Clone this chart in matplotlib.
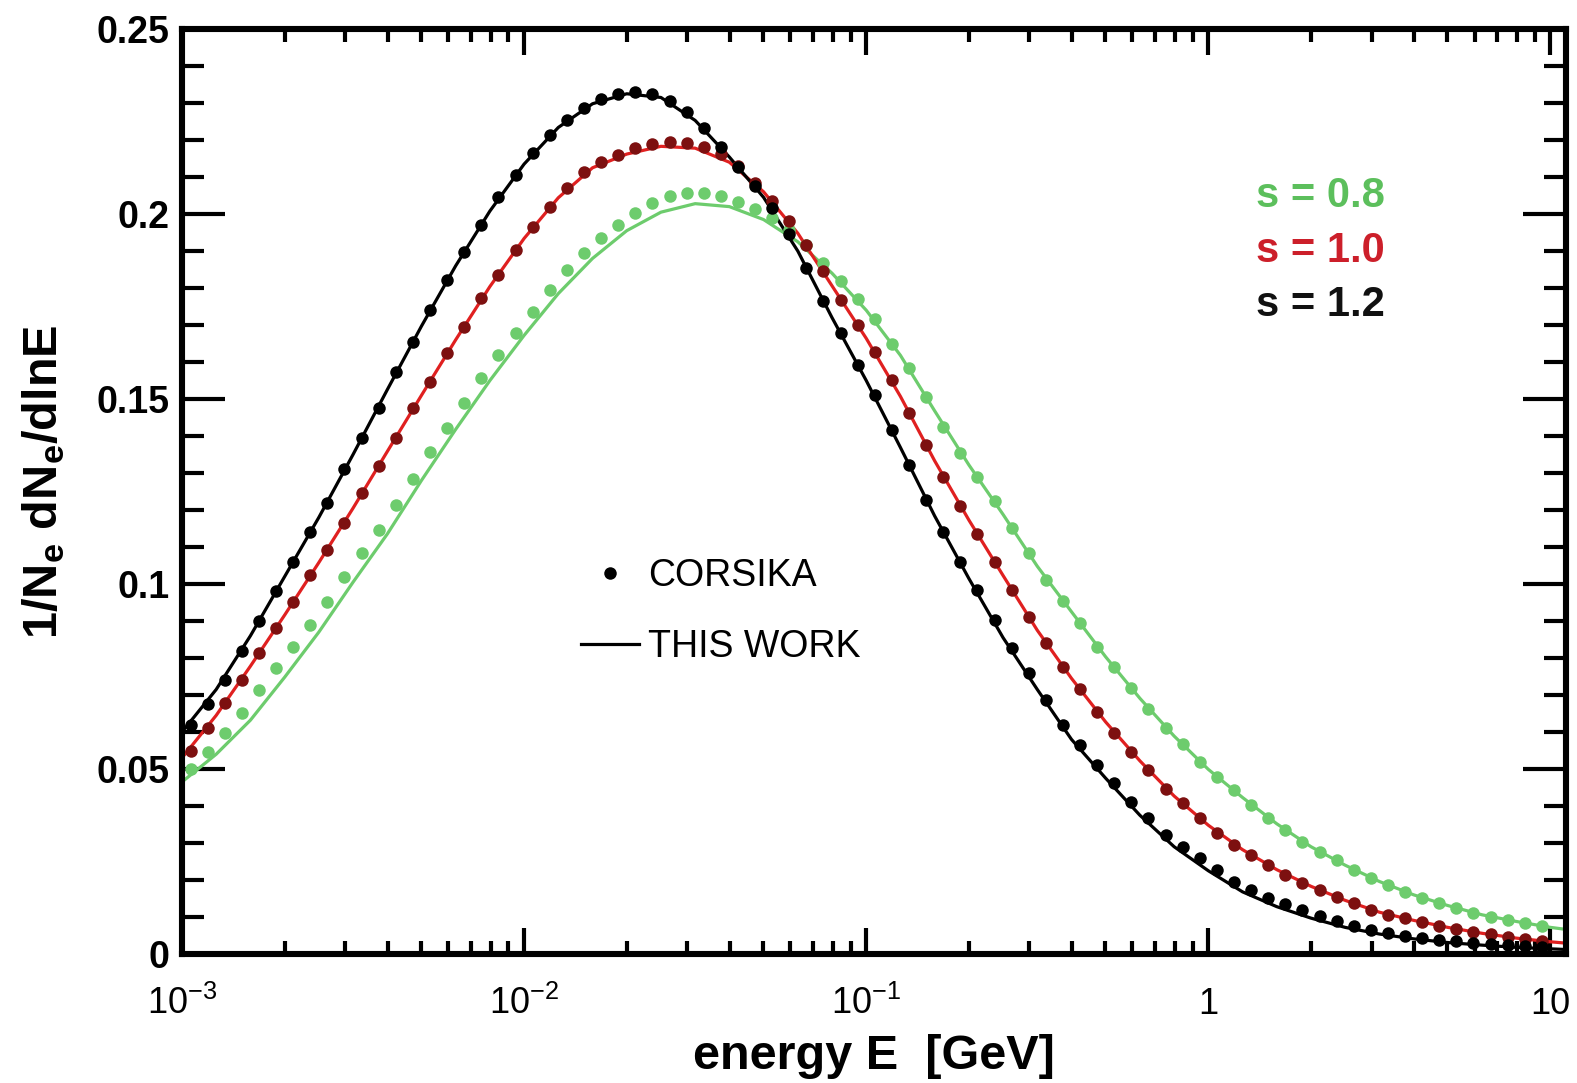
import numpy as np
import matplotlib
matplotlib.use("Agg")
from matplotlib import pyplot as plt
from matplotlib.lines import Line2D
from matplotlib.ticker import FixedLocator, FixedFormatter, MultipleLocator, LogLocator, NullFormatter

plt.rcParams['font.family'] = ['Liberation Sans', 'DejaVu Sans']
plt.rcParams['mathtext.fontset'] = 'custom'
plt.rcParams['mathtext.rm'] = 'Liberation Sans'
plt.rcParams['mathtext.bf'] = 'Liberation Sans:bold'
plt.rcParams['mathtext.default'] = 'regular'

# CORSIKA histogram, bin centres in log10(E/GeV), 20 bins per decade
dot_logE = [-2.975, -2.925, -2.875, -2.825, -2.775, -2.725, -2.675, -2.625, -2.575, -2.525,
            -2.475, -2.425, -2.375, -2.325, -2.275, -2.225, -2.175, -2.125, -2.075, -2.025,
            -1.975, -1.925, -1.875, -1.825, -1.775, -1.725, -1.675, -1.625, -1.575, -1.525,
            -1.475, -1.425, -1.375, -1.325, -1.275, -1.225, -1.175, -1.125, -1.075, -1.025,
            -0.975, -0.925, -0.875, -0.825, -0.775, -0.725, -0.675, -0.625, -0.575, -0.525,
            -0.475, -0.425, -0.375, -0.325, -0.275, -0.225, -0.175, -0.125, -0.075, -0.025,
            0.025, 0.075, 0.125, 0.175, 0.225, 0.275, 0.325, 0.375, 0.425, 0.475,
            0.525, 0.575, 0.625, 0.675, 0.725, 0.775, 0.825, 0.875, 0.925, 0.975]

corsika_08 = [0.0500, 0.0545, 0.0597, 0.0651, 0.0714, 0.0773, 0.0830, 0.0889, 0.0951, 0.1019,
              0.1084, 0.1146, 0.1214, 0.1285, 0.1357, 0.1422, 0.1489, 0.1557, 0.1619, 0.1678,
              0.1735, 0.1795, 0.1849, 0.1895, 0.1935, 0.1970, 0.2002, 0.2030, 0.2048, 0.2057,
              0.2057, 0.2048, 0.2033, 0.2014, 0.1990, 0.1957, 0.1915, 0.1868, 0.1820, 0.1770,
              0.1715, 0.1650, 0.1585, 0.1505, 0.1424, 0.1354, 0.1290, 0.1225, 0.1151, 0.1084,
              0.1011, 0.0955, 0.0895, 0.0830, 0.0776, 0.0720, 0.0662, 0.0610, 0.0567, 0.0520,
              0.0478, 0.0443, 0.0403, 0.0368, 0.0335, 0.0303, 0.0276, 0.0254, 0.0227, 0.0205,
              0.0186, 0.0168, 0.0151, 0.0138, 0.0124, 0.0111, 0.0100, 0.0092, 0.0084, 0.0075]

corsika_10 = [0.0550, 0.0610, 0.0678, 0.0741, 0.0814, 0.0881, 0.0951, 0.1024, 0.1092, 0.1165,
              0.1245, 0.1320, 0.1395, 0.1476, 0.1546, 0.1624, 0.1695, 0.1773, 0.1835, 0.1903,
              0.1965, 0.2019, 0.2070, 0.2114, 0.2141, 0.2160, 0.2178, 0.2190, 0.2195, 0.2192,
              0.2182, 0.2163, 0.2130, 0.2085, 0.2035, 0.1980, 0.1915, 0.1845, 0.1768, 0.1700,
              0.1627, 0.1551, 0.1462, 0.1376, 0.1290, 0.1210, 0.1135, 0.1060, 0.0985, 0.0910,
              0.0840, 0.0775, 0.0715, 0.0655, 0.0598, 0.0546, 0.0497, 0.0445, 0.0408, 0.0368,
              0.0327, 0.0295, 0.0268, 0.0241, 0.0214, 0.0192, 0.0173, 0.0153, 0.0137, 0.0120,
              0.0106, 0.0096, 0.0086, 0.0077, 0.0068, 0.0060, 0.0053, 0.0046, 0.0040, 0.0035]

corsika_12 = [0.0620, 0.0675, 0.0740, 0.0820, 0.0900, 0.0980, 0.1060, 0.1140, 0.1220, 0.1310,
              0.1395, 0.1476, 0.1573, 0.1654, 0.1741, 0.1822, 0.1897, 0.1970, 0.2046, 0.2105,
              0.2165, 0.2214, 0.2254, 0.2286, 0.2310, 0.2325, 0.2330, 0.2325, 0.2305, 0.2275,
              0.2232, 0.2181, 0.2127, 0.2075, 0.2015, 0.1945, 0.1855, 0.1765, 0.1678, 0.1592,
              0.1511, 0.1416, 0.1322, 0.1227, 0.1141, 0.1059, 0.0984, 0.0903, 0.0827, 0.0759,
              0.0686, 0.0619, 0.0565, 0.0511, 0.0462, 0.0412, 0.0368, 0.0322, 0.0289, 0.0259,
              0.0227, 0.0195, 0.0173, 0.0151, 0.0136, 0.0119, 0.0102, 0.0088, 0.0075, 0.0065,
              0.0057, 0.0049, 0.0043, 0.0038, 0.0034, 0.0030, 0.0027, 0.0024, 0.0021, 0.0019]

# parametrisation ("this work"), every 0.1 in log10(E/GeV), up to the frame edge
fit_logE = [-3.0, -2.9, -2.8, -2.7, -2.6, -2.5, -2.4, -2.3, -2.2, -2.1,
            -2.0, -1.9, -1.8, -1.7, -1.6, -1.5, -1.4, -1.3, -1.2, -1.1,
            -1.0, -0.9, -0.8, -0.7, -0.6, -0.5, -0.4, -0.3, -0.2, -0.1,
            0.0, 0.1, 0.2, 0.3, 0.4, 0.5, 0.6, 0.7, 0.8, 0.9, 1.0, 1.05]

fit_08 = [0.0465, 0.0540, 0.0632, 0.0748, 0.0870, 0.1005, 0.1135, 0.1280, 0.1418, 0.1550,
          0.1672, 0.1785, 0.1880, 0.1955, 0.2005, 0.2028, 0.2020, 0.1985, 0.1925, 0.1840,
          0.1740, 0.1618, 0.1468, 0.1322, 0.1188, 0.1048, 0.0925, 0.0803, 0.0691, 0.0589,
          0.0499, 0.0423, 0.0352, 0.0290, 0.0240, 0.0196, 0.0160, 0.0131, 0.0106, 0.0088,
          0.0072, 0.0066]

fit_10 = [0.0530, 0.0645, 0.0778, 0.0916, 0.1058, 0.1205, 0.1358, 0.1510, 0.1660, 0.1804,
          0.1934, 0.2044, 0.2125, 0.2162, 0.2183, 0.2178, 0.2140, 0.2060, 0.1948, 0.1806,
          0.1664, 0.1507, 0.1333, 0.1173, 0.1023, 0.0875, 0.0745, 0.0627, 0.0522, 0.0427,
          0.0348, 0.0282, 0.0228, 0.0183, 0.0145, 0.0113, 0.0091, 0.0072, 0.0056, 0.0043,
          0.0033, 0.0029]

fit_12 = [0.0600, 0.0715, 0.0860, 0.1020, 0.1180, 0.1350, 0.1525, 0.1697, 0.1860, 0.2008,
          0.2135, 0.2234, 0.2298, 0.2325, 0.2315, 0.2253, 0.2154, 0.2045, 0.1900, 0.1720,
          0.1550, 0.1369, 0.1184, 0.1015, 0.0855, 0.0715, 0.0580, 0.0475, 0.0375, 0.0290,
          0.0225, 0.0168, 0.0128, 0.0097, 0.0072, 0.0054, 0.0041, 0.0031, 0.0024, 0.0018,
          0.0014, 0.0012]

series = [
    ("s = 0.8", corsika_08, fit_08, "#6dcc6d", "#6dcc6d", "#5cbf5c"),
    ("s = 1.0", corsika_10, fit_10, "#e02020", "#7d1010", "#cc1f2a"),
    ("s = 1.2", corsika_12, fit_12, "#000000", "#000000", "#111111"),
]

dot_E = 10 ** np.array(dot_logE)
fit_E = 10 ** np.array(fit_logE)

fig = plt.figure(figsize=(15.77, 10.83), dpi=100)
ax = fig.add_axes([0.1154, 0.1191, 0.8776, 0.8541])

for name, dots, fit, lcol, dcol, tcol in series:
    ax.plot(fit_E, fit, color=lcol, lw=2.3, zorder=2)
    ax.plot(dot_E, dots, ls='none', marker='o', ms=9, mew=0, color=dcol, zorder=3)

ax.set_xscale('log')
ax.set_xlim(1e-3, 11.1)
ax.set_ylim(0, 0.25)

ax.xaxis.set_major_locator(FixedLocator([1e-3, 1e-2, 1e-1, 1, 10]))
ax.xaxis.set_major_formatter(FixedFormatter([r'$10^{-3}$', r'$10^{-2}$', r'$10^{-1}$', '1', '10']))
ax.xaxis.set_minor_locator(LogLocator(base=10, subs=np.arange(2, 10), numticks=20))
ax.xaxis.set_minor_formatter(NullFormatter())
ax.yaxis.set_minor_locator(MultipleLocator(0.01))
ax.set_yticks([0, 0.05, 0.1, 0.15, 0.2, 0.25])
ax.set_yticklabels(['0', '0.05', '0.1', '0.15', '0.2', '0.25'], fontweight='bold')

ax.tick_params(which='both', direction='in', top=True, right=True, width=3, color='k')
ax.tick_params(axis='y', which='major', length=31, pad=9, labelsize=27)
ax.tick_params(axis='y', which='minor', length=16)
ax.tick_params(axis='x', which='major', length=19, pad=43, labelsize=26)
ax.tick_params(axis='x', which='minor', length=9.5)
for t in ax.get_xticklabels():
    t.set_va('baseline')

for sp in ax.spines.values():
    sp.set_linewidth(4.4)

ax.set_xlabel('energy E  [GeV]', fontsize=35, fontweight='bold')
ax.xaxis.set_label_coords(0.5, -0.087)
ax.set_ylabel(r'1/N$_\mathbf{e}$ dN$_\mathbf{e}$/dlnE', fontsize=35, fontweight='bold')
ax.yaxis.set_label_coords(-0.083, 0.511)

# legend for symbol / line meaning
handles = [Line2D([], [], ls='none', marker='o', ms=9, mew=0, color='k'),
           Line2D([], [], color='k', lw=2.3)]
ax.legend(handles, ['CORSIKA', 'THIS WORK'], loc='center left',
          bbox_to_anchor=(0.2883, 0.370), frameon=False, fontsize=27,
          handlelength=1.55, handletextpad=0.25, borderpad=0, borderaxespad=0,
          labelspacing=0.94)

# shower age labels
label_y = [0.8195, 0.760, 0.7016]
for (name, dots, fit, lcol, dcol, tcol), yy in zip(series, label_y):
    ax.text(0.776, yy, name, transform=ax.transAxes, color=tcol, fontsize=30,
            fontweight='bold', va='center', ha='left')

fig.savefig('out.png', dpi=100)
